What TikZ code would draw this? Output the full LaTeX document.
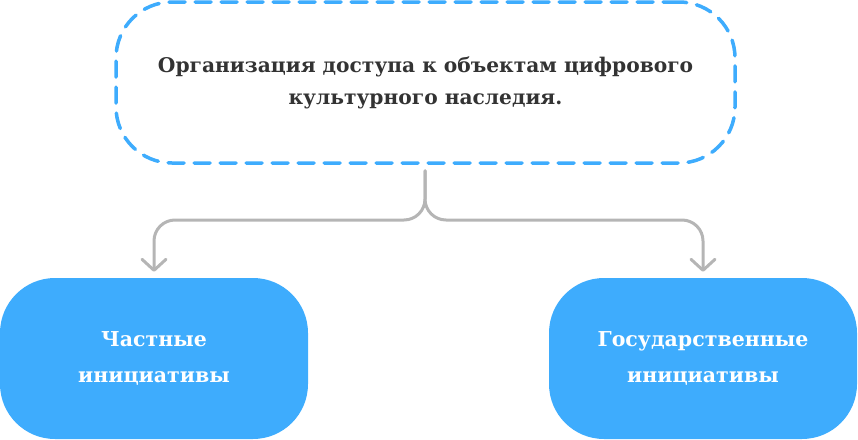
\documentclass[tikz,border=0pt]{standalone}
\usepackage{fontspec}
\setmainfont{DejaVu Serif}
\usetikzlibrary{arrows.meta}
\definecolor{cblue}{HTML}{3EACFD}
\definecolor{cgray}{HTML}{B5B5B5}
\definecolor{ctext}{HTML}{333333}
\begin{document}
\begin{tikzpicture}[x=1pt,y=-1pt,
  topbox/.style={draw=cblue, line width=3.5pt, dash pattern=on 16pt off 10pt, line cap=round, rounded corners=56pt, minimum width=619pt, minimum height=161pt, align=center, text=ctext, font=\bfseries\fontsize{20.2}{32}\selectfont, inner sep=0pt},
  fillbox/.style={fill=cblue, rounded corners=55pt, minimum width=308pt, minimum height=161pt, align=center, text=white, font=\bfseries\fontsize{20.5}{36}\selectfont, inner sep=0pt},
  conn/.style={draw=cgray, line width=3pt, rounded corners=21pt, line cap=round, shorten <=6pt, shorten >=6pt, -{Straight Barb[length=11pt, width=24pt, line cap=round, line join=round]}}
]
\useasboundingbox (0,0) rectangle (858,439);
\node[topbox] (top) at (425.5,82.5) {Организация доступа к объектам цифрового\\культурного наследия.};
\node[fillbox] (l) at (154,358.5) {Частные\\инициативы};
\node[fillbox] (r) at (703,358.5) {Государственные\\инициативы};
\coordinate (j) at (425,220);
\draw[conn] (top.south -| j) -- (j) -| (l.north);
\draw[conn] (top.south -| j) -- (j) -| (r.north);
\end{tikzpicture}
\end{document}
